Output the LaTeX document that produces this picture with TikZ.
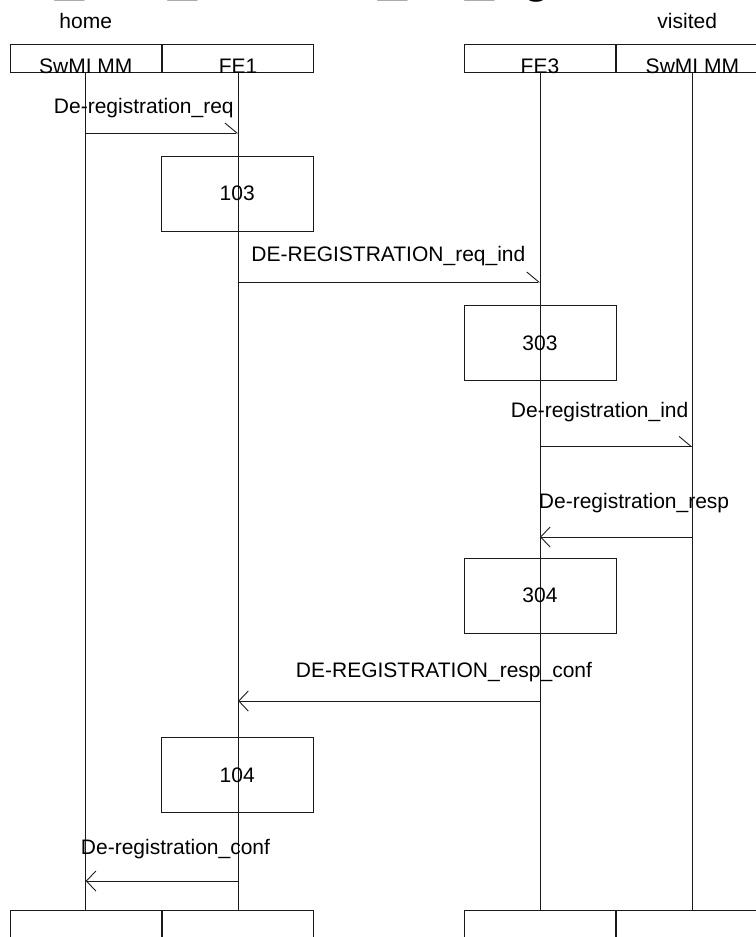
\documentclass[tikz,border=0pt]{standalone}
\usepackage{fontspec}
\setmainfont{Liberation Sans}
\usepackage{xcolor}
\definecolor{ink}{HTML}{1A1A1A}
\usepackage{tikz}
\usetikzlibrary{arrows.meta, positioning, calc}

\begin{document}
\begin{tikzpicture}[
  x=1pt, y=-1pt,
  font=\fontsize{21}{25}\selectfont,
  line width=0.9pt,
  every node/.style={align=center, inner sep=0pt},
  cell/.style={draw=ink, minimum width=151.5pt, minimum height=28pt},
  act/.style={draw=ink, minimum width=152pt, minimum height=75pt},
  msgl/.style={draw=ink, -{Straight Barb[length=9.5pt, width=20pt]}},
  msgr/.style={draw=ink, -{Straight Barb[harpoon, length=12pt, width=20pt]}},
  lbl/.style={anchor=base west},
  title/.style={anchor=base west, font=\fontsize{52}{60}\selectfont}
]
  \useasboundingbox (0,0) rectangle (755,937);

  % clipped title line
  \node[title] (t1) at (55,-9.6) {\_};
  \node[title] (t2) at (168,-9.6) {\_};
  \node[title] (t3) at (378,-9.6) {\_};
  \node[title] (t4) at (465,-9.6) {\_};
  \node[title] (t5) at (522,-9) {g};

  \node[anchor=base west] (home) at (59,28) {home};
  \node[anchor=base west] (visited) at (657,28) {visited};

  % instances
  \node[cell] (hSw) at (85.75,58) {};
  \node[cell, right=0pt of hSw] (hFe1) {};
  \node[cell] (hFe3) at (540,58) {};
  \node[cell, right=0pt of hFe3] (hSwV) {};
  \node[cell] (fSw) at (85.75,924) {};
  \node[cell, right=0pt of fSw] (fFe1) {};
  \node[cell] (fFe3) at (540,924) {};
  \node[cell, right=0pt of fFe3] (fSwV) {};

  \node[anchor=base] (nSw) at ($(hSw.south)+(0,1)$) {SwMI MM};
  \node[anchor=base] (nFe1) at ($(hFe1.south)+(0,1)$) {FE1};
  \node[anchor=base] (nFe3) at ($(hFe3.south)+(0,1)$) {FE3};
  \node[anchor=base] (nSwV) at ($(hSwV.south)+(0,1)$) {SwMI MM};

  \foreach \a/\b in {hSw/fSw, hFe1/fFe1, hFe3/fFe3, hSwV/fSwV}
    \draw[ink] (\a.south) -- (\b.north);

  % actions
  \node[act] (b103) at (237.25,193.5) {103};
  \node[act] (b303) at (540,343) {303};
  \node[act] (b304) at (540,595.5) {304};
  \node[act] (b104) at (237.25,775.3) {104};

  % message rows
  \coordinate (r1) at (0,133);
  \coordinate (r2) at (0,282);
  \coordinate (r3) at (0,446.5);
  \coordinate (r4) at (0,537);
  \coordinate (r5) at (0,701);
  \coordinate (r6) at (0,881);

  \draw[msgr] (hSw |- r1) -- (hFe1 |- r1);
  \draw[msgr] (hFe1 |- r2) -- (hFe3 |- r2);
  \draw[msgr] (hFe3 |- r3) -- (hSwV |- r3);
  \draw[msgl] (hSwV |- r4) -- (hFe3 |- r4);
  \draw[msgl] (hFe3 |- r5) -- (hFe1 |- r5);
  \draw[msgl] (hFe1 |- r6) -- (hSw |- r6);

  \node[lbl] (l1) at (53.5,113.5) {De-registration\_req};
  \node[lbl] (l2) at (251,261) {DE-REGISTRATION\_req\_ind};
  \node[lbl] (l3) at (510.5,417) {De-registration\_ind};
  \node[lbl] (l4) at (538.5,508.5) {De-registration\_resp};
  \node[lbl] (l5) at (295.5,677) {DE-REGISTRATION\_resp\_conf};
  \node[lbl] (l6) at (80.5,854) {De-registration\_conf};
\end{tikzpicture}
\end{document}
